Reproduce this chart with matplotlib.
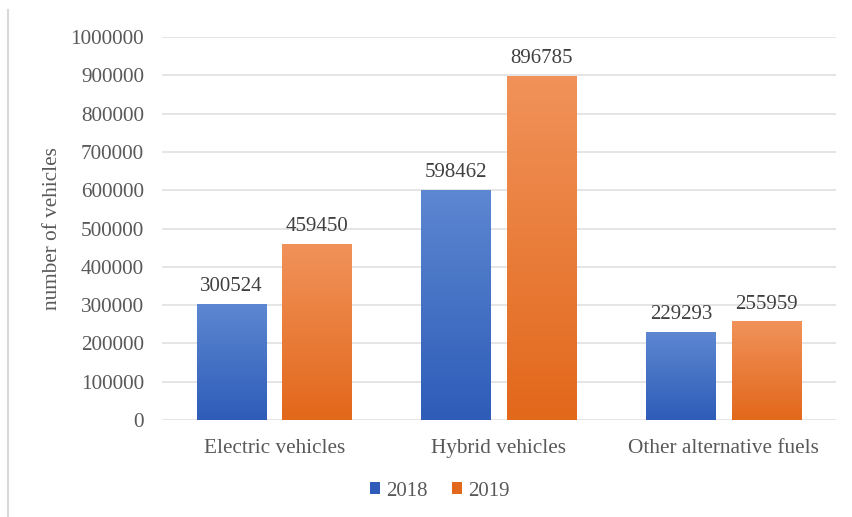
import matplotlib
matplotlib.use("Agg")
import matplotlib.pyplot as plt
import numpy as np
from matplotlib.colors import LinearSegmentedColormap
from matplotlib.patches import Patch
from matplotlib.lines import Line2D

categories = ["Electric vehicles", "Hybrid vehicles", "Other alternative fuels"]
years = ["2018", "2019"]
values_2018 = [300524, 598462, 229293]
values_2019 = [459450, 896785, 255959]

plt.rcParams['font.family'] = ['Liberation Serif', 'DejaVu Serif']
txt = '#595959'

fig = plt.figure(figsize=(8.53, 5.17), dpi=100)
ax = fig.add_axes([162/853, (517-420)/517, (836-162)/853, (420-37)/517])

x = np.arange(len(categories))
w = 0.31
off = 0.19
blue_top, blue_bot = '#5D87D1', '#2E5CB8'
or_top, or_bot = '#F1925A', '#E2681B'

def grad_bars(xpos, vals, top, bot):
    bars = ax.bar(xpos, vals, w, color=bot, zorder=2, edgecolor='none')
    cmap = LinearSegmentedColormap.from_list('g', [bot, top])
    grad = np.linspace(0, 1, 256).reshape(-1, 1)
    for b in bars:
        x0, y0 = b.get_x(), b.get_y()
        ax.imshow(grad, cmap=cmap, origin='lower', aspect='auto',
                  extent=[x0, x0 + b.get_width(), y0, y0 + b.get_height()], zorder=3)
    return bars

b1 = grad_bars(x - off, values_2018, blue_top, blue_bot)
b2 = grad_bars(x + off, values_2019, or_top, or_bot)

for bars, vals in ((b1, values_2018), (b2, values_2019)):
    for b, v in zip(bars, vals):
        ax.text(b.get_x() + b.get_width()/2, v + 22000, str(v), ha='center', va='bottom',
                fontsize=15, color='#404040', zorder=4)

ax.set_xlim(-0.5, 2.5)
ax.set_ylim(0, 1000000)
ax.set_yticks(np.arange(0, 1000001, 100000))
ax.set_yticklabels([str(v) for v in range(0, 1000001, 100000)])
ax.set_xticks(x)
ax.set_xticklabels(categories)
ax.tick_params(axis='both', length=0, labelsize=15.3, colors=txt)
ax.tick_params(axis='y', pad=13)
ax.tick_params(axis='x', pad=14)
ax.yaxis.grid(True, color='#E3E3E3', linewidth=1.3, zorder=0)
ax.set_axisbelow(True)
for s in ax.spines.values():
    s.set_visible(False)
ax.set_ylabel('number of vehicles', fontsize=15.3, color=txt, labelpad=6)

handles = [Patch(facecolor=blue_bot, label=years[0]), Patch(facecolor=or_bot, label=years[1])]
fig.legend(handles=handles, loc='center', bbox_to_anchor=(440/853, 1 - 491/517), ncol=2,
           frameon=False, fontsize=15, handlelength=0.45, handleheight=0.45,
           handletextpad=0.3, columnspacing=1.2, labelcolor=txt)

fig.add_artist(Line2D([8/853, 8/853], [0, 1 - 10/517], color='#D9D9D9', linewidth=1.5,
                      transform=fig.transFigure))

fig.savefig('out.png', dpi=100, facecolor='white')
